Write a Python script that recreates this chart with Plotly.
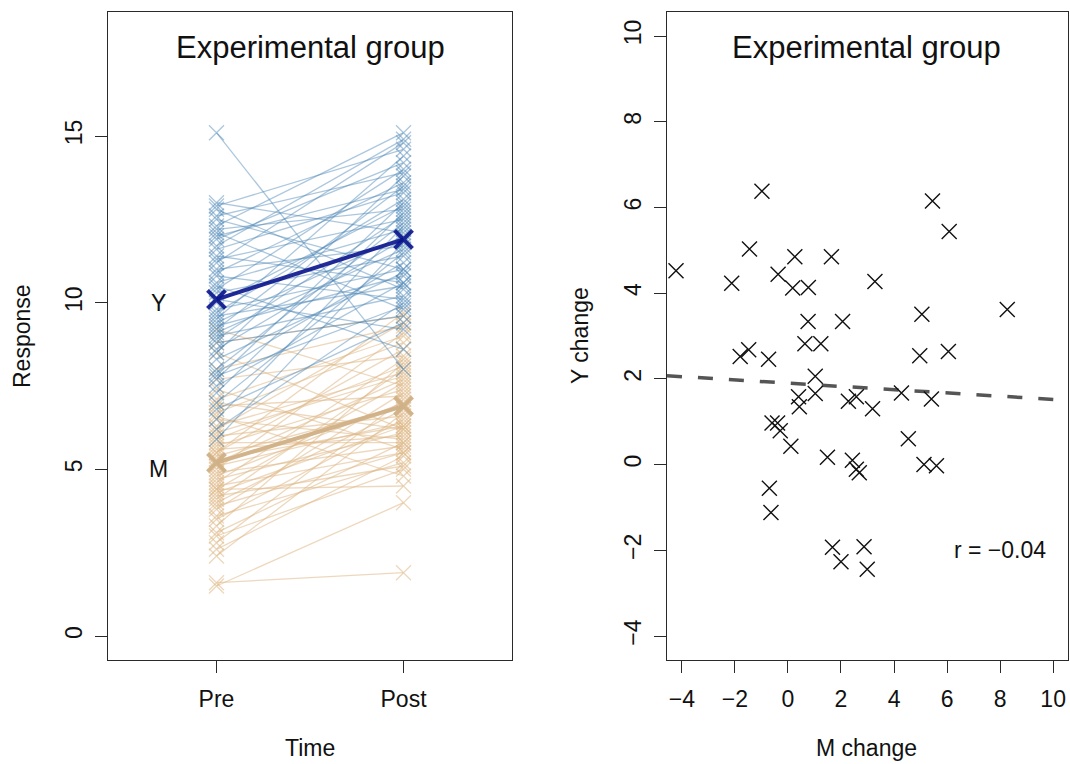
import plotly.graph_objects as go

# ---------------- data ----------------
time_labels = ["Pre", "Post"]
time_pos = [1, 2]

y_pre = [15.1, 13.0, 12.9, 12.8, 12.6, 12.5, 12.3, 12.2, 12.1, 11.9,
         11.6, 11.4, 11.3, 11.2, 11.0, 10.9, 10.8, 10.6, 10.4, 10.3,
         10.1, 10.0, 9.8, 9.7, 9.6, 9.5, 9.4, 9.3, 9.2, 9.1,
         9.0, 8.9, 8.8, 8.6, 8.5, 8.3, 8.0, 7.9, 7.8, 7.7,
         7.5, 7.3, 7.0, 6.8, 6.5, 6.2, 5.9, 11.7, 12.0, 10.5]
y_post = [8.0, 12.1, 14.6, 10.4, 13.9, 11.0, 15.1, 12.8, 9.8, 14.2,
          13.3, 10.6, 12.5, 14.8, 11.7, 13.6, 10.1, 12.2, 14.0, 11.4,
          9.2, 12.9, 11.0, 13.1, 10.5, 14.4, 12.0, 10.8, 13.5, 11.6,
          10.2, 12.6, 9.6, 11.9, 13.8, 10.9, 12.4, 11.2, 9.9, 13.0,
          10.6, 12.7, 11.5, 9.4, 12.3, 10.0, 11.8, 14.9, 13.4, 8.6]
m_pre = [9.2, 8.8, 8.5, 8.0, 7.7, 7.4, 7.1, 6.9, 6.7, 6.5,
         6.3, 6.2, 6.0, 5.9, 5.8, 5.7, 5.6, 5.5, 5.4, 5.3,
         5.2, 5.1, 5.0, 4.9, 4.8, 4.7, 4.6, 4.5, 4.4, 4.3,
         4.2, 4.1, 4.0, 3.9, 3.8, 3.6, 3.5, 3.3, 3.1, 2.8,
         2.6, 2.4, 1.6, 1.5, 6.6, 7.0, 5.5, 4.4, 3.0, 6.1]
m_post = [7.5, 9.6, 6.2, 9.3, 8.4, 5.6, 9.0, 7.2, 8.8, 5.9,
          7.9, 9.4, 6.6, 8.1, 5.8, 7.4, 6.0, 8.6, 6.9, 6.3,
          7.7, 6.4, 9.1, 5.7, 7.0, 6.1, 8.3, 5.5, 7.6, 6.3,
          5.1, 8.0, 6.8, 5.5, 7.3, 5.2, 6.5, 8.2, 5.8, 7.1,
          5.4, 6.7, 1.9, 4.0, 4.8, 6.2, 9.7, 4.5, 5.0, 7.8]
y_mean = [10.1, 11.9]
m_mean = [5.2, 6.9]

m_change = [-4.22, -2.12, -1.45, -0.98, -1.80, -1.48, -0.73, -0.37, 0.26, 0.18,
            0.77, 0.76, 0.64, 1.24, 1.03, 1.03, 0.40, 0.43, -0.60, -0.39,
            -0.29, 0.11, -0.70, -0.64, 1.64, 2.06, 3.28, 2.28, 2.58, 3.19,
            1.49, 2.43, 2.58, 2.69, 1.68, 2.00, 2.87, 2.99, 4.28, 4.54,
            5.05, 4.97, 5.13, 5.41, 5.45, 5.60, 6.08, 6.05, 8.27]
y_change = [4.52, 4.23, 5.03, 6.38, 2.52, 2.68, 2.46, 4.44, 4.85, 4.12,
            4.13, 3.34, 2.82, 2.82, 2.06, 1.66, 1.58, 1.35, 0.97, 0.97,
            0.79, 0.43, -0.55, -1.12, 4.85, 3.34, 4.27, 1.48, 1.58, 1.30,
            0.17, 0.10, -0.11, -0.19, -1.93, -2.27, -1.92, -2.44, 1.67, 0.60,
            3.51, 2.54, 0.00, 1.53, 6.15, -0.03, 5.44, 2.64, 3.62]
fit_intercept = 1.90
fit_slope = -0.038
r_label = "r = \u22120.04"

left_yticks = [0, 5, 10, 15]
right_ticks = [-4, -2, 0, 2, 4, 6, 8, 10]

# ---------------- styles ----------------
FONT = "Liberation Sans, Arial, Helvetica, sans-serif"
BLUE = "rgba(70,130,180,0.45)"
TAN = "rgba(222,184,135,0.55)"
BLUE_MEAN = "rgba(10,20,140,0.9)"
TAN_MEAN = "rgba(208,176,134,0.95)"

W, H = 1070, 764
def px_x(p):
    return p / W
def px_y(p):
    return 1 - p / H

fig = go.Figure()

def spaghetti(pre, post, color, name):
    xs, ys = [], []
    for a, b in zip(pre, post):
        xs += [time_pos[0], time_pos[1], None]
        ys += [a, b, None]
    fig.add_trace(go.Scatter(x=xs, y=ys, mode="lines",
                             line=dict(color=color, width=1.3),
                             hoverinfo="skip", showlegend=False,
                             xaxis="x", yaxis="y"))
    mx = [time_pos[0]] * len(pre) + [time_pos[1]] * len(post)
    my = list(pre) + list(post)
    fig.add_trace(go.Scatter(x=mx, y=my, mode="markers",
                             marker=dict(symbol="x-thin-open", size=15, color=color,
                                         line=dict(color=color, width=1.3)),
                             name=name, showlegend=False,
                             xaxis="x", yaxis="y"))

spaghetti(m_pre, m_post, TAN, "M")
spaghetti(y_pre, y_post, BLUE, "Y")

for means, col in [(m_mean, TAN_MEAN), (y_mean, BLUE_MEAN)]:
    fig.add_trace(go.Scatter(x=time_pos, y=means, mode="lines+markers",
                             line=dict(color=col, width=4),
                             marker=dict(symbol="x-thin-open", size=18, color=col,
                                         line=dict(color=col, width=4)),
                             showlegend=False, xaxis="x", yaxis="y"))

# right panel
x0, x1 = -4.56, 10.56
fig.add_trace(go.Scatter(x=[x0, x1],
                         y=[fit_intercept + fit_slope * x0, fit_intercept + fit_slope * x1],
                         mode="lines",
                         line=dict(color="#555555", width=3.5, dash="15px,16px"),
                         showlegend=False, xaxis="x2", yaxis="y2"))
fig.add_trace(go.Scatter(x=m_change, y=y_change, mode="markers",
                         marker=dict(symbol="x-thin-open", size=15, color="#111111",
                                     line=dict(color="#111111", width=1.4)),
                         showlegend=False, xaxis="x2", yaxis="y2"))

axis_common = dict(showline=True, linecolor="#2a2a2a", linewidth=1.2, mirror=True,
                   ticks="outside", ticklen=12, tickwidth=1.2, tickcolor="#2a2a2a",
                   showgrid=False, zeroline=False, automargin=False,
                   tickfont=dict(family=FONT, size=23, color="#111111"))

dom_y = [px_y(660), px_y(12)]
fig.update_layout(
    width=W, height=H,
    margin=dict(l=0, r=0, t=0, b=0),
    paper_bgcolor="white", plot_bgcolor="white",
    font=dict(family=FONT, color="#111111"),
    xaxis=dict(domain=[px_x(108), px_x(512)], range=[0.42, 2.58],
               tickvals=time_pos, ticktext=time_labels, anchor="y",
               ticklabelstandoff=6, **axis_common),
    yaxis=dict(domain=dom_y, range=[-0.72, 18.72], tickvals=left_yticks,
               tickangle=-90, anchor="x", ticklabelstandoff=4, **axis_common),
    xaxis2=dict(domain=[px_x(667), px_x(1068)], range=[x0, x1],
                tickvals=right_ticks, anchor="y2", ticklabelstandoff=6, **axis_common),
    yaxis2=dict(domain=dom_y, range=[-4.56, 10.56], tickvals=right_ticks,
                tickangle=-90, anchor="x2", ticklabelstandoff=4, **axis_common),
)

ann = []
def add_text(x, y, text, size, angle=0, xref="paper", yref="paper"):
    ann.append(dict(x=x, y=y, xref=xref, yref=yref, text=text, showarrow=False,
                    xanchor="center", yanchor="middle", textangle=angle,
                    font=dict(family=FONT, size=size, color="#111111")))

add_text(px_x(310), px_y(48), "Experimental group", 31)
add_text(px_x(867), px_y(48), "Experimental group", 31)
add_text(px_x(22), px_y(336), "Response", 23, angle=-90)
add_text(px_x(580), px_y(336), "Y change", 23, angle=-90)
add_text(px_x(310), px_y(748), "Time", 23)
add_text(px_x(867), px_y(748), "M change", 23)
add_text(0.69, 10, "Y", 23, xref="x", yref="y")
add_text(0.69, 5, "M", 23, xref="x", yref="y")
add_text(8.0, -2.0, r_label, 23, xref="x2", yref="y2")
fig.update_layout(annotations=ann)

fig.write_html("out.html", config={"displayModeBar": False},
               post_script="document.body.style.margin='0';document.body.style.overflow='hidden';")
